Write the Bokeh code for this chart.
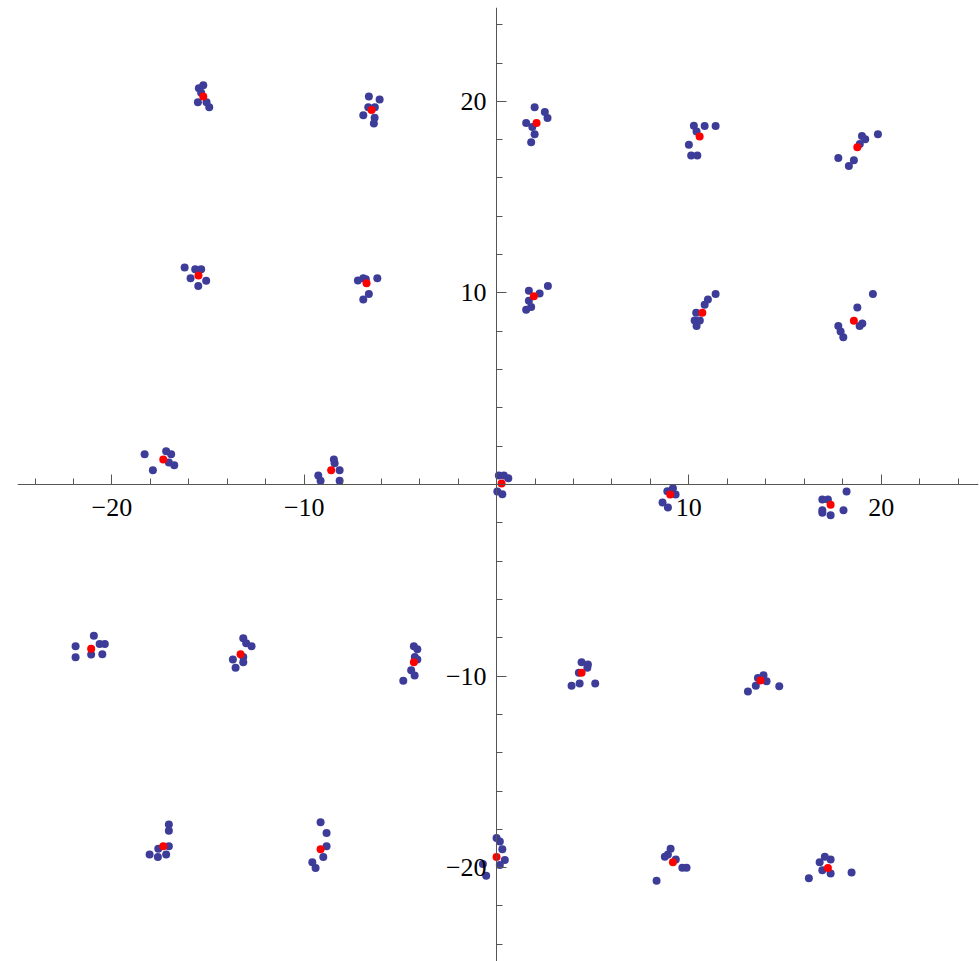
from bokeh.plotting import figure
from bokeh.models import Range1d, FixedTicker, CustomJSTickFormatter
from bokeh.embed import file_html
from bokeh.resources import INLINE

# ---- data ----
blue_points = [
    (-15.48, 20.69), (-15.25, 20.84), (-15.36, 20.45), (-15.53, 19.96), (-15.08, 19.96), (-14.94, 19.69),
    (-6.64, 20.25), (-6.08, 20.10), (-6.67, 19.69), (-6.33, 19.69), (-6.93, 19.27), (-6.34, 19.15), (-6.38, 18.84),
    (1.98, 19.69), (2.51, 19.44), (2.65, 19.13), (1.54, 18.87), (1.86, 18.66), (1.98, 18.28), (1.80, 17.87),
    (10.26, 18.73), (10.82, 18.71), (11.39, 18.71), (10.40, 18.43), (10.00, 17.74), (10.12, 17.18), (10.44, 17.18),
    (19.83, 18.29), (19.00, 18.19), (19.17, 18.02), (18.89, 17.77), (17.77, 17.04), (18.58, 16.92), (18.32, 16.62),
    (-16.22, 11.33), (-15.67, 11.23), (-15.36, 11.23), (-15.91, 10.77), (-15.10, 10.64), (-15.51, 10.36),
    (-7.21, 10.65), (-6.93, 10.77), (-6.20, 10.77), (-6.80, 10.72), (-6.64, 9.94), (-6.93, 9.66),
    (2.67, 10.36), (1.68, 10.11), (2.24, 9.97), (1.68, 9.59), (1.80, 9.26), (1.54, 9.12),
    (11.39, 9.94), (10.99, 9.66), (10.82, 9.38), (10.38, 8.97), (10.30, 8.56), (10.57, 8.56), (10.40, 8.27),
    (19.57, 9.94), (18.76, 9.24), (19.02, 8.41), (18.88, 8.27), (17.77, 8.27), (17.89, 7.99), (18.03, 7.69),
    (-18.30, 1.58), (-17.18, 1.74), (-16.92, 1.58), (-17.04, 1.15), (-16.76, 1.01), (-17.87, 0.75),
    (-8.46, 1.31), (-8.42, 1.11), (-8.16, 0.75), (-9.27, 0.47), (-9.15, 0.19), (-8.16, 0.19),
    (0.12, 0.47), (0.38, 0.47), (0.61, 0.33), (0.04, -0.37), (0.30, -0.51),
    (9.17, -0.19), (8.88, -0.35), (9.31, -0.52), (8.63, -0.94), (8.91, -1.20),
    (18.20, -0.37), (16.94, -0.78), (17.23, -0.78), (16.94, -1.34), (16.94, -1.48), (17.37, -1.60), (18.04, -1.34),
    (-20.94, -7.89), (-20.64, -8.32), (-20.37, -8.32), (-21.89, -8.44), (-21.89, -9.02), (-21.08, -8.88), (-20.50, -8.86),
    (-13.17, -8.03), (-13.02, -8.29), (-12.74, -8.44), (-13.17, -9.00), (-13.71, -9.14), (-13.17, -9.28), (-13.57, -9.57),
    (-4.30, -8.44), (-4.12, -8.60), (-4.25, -9.00), (-4.12, -9.14), (-4.44, -9.70), (-4.26, -9.97), (-4.85, -10.25),
    (4.42, -9.28), (4.75, -9.40), (4.72, -9.57), (4.28, -9.83), (3.90, -10.51), (4.32, -10.39), (5.13, -10.39),
    (13.88, -9.96), (13.59, -10.10), (14.04, -10.27), (13.48, -10.51), (13.07, -10.81), (14.70, -10.53),
    (-17.04, -17.75), (-17.04, -18.07), (-17.04, -18.89), (-17.59, -19.02), (-18.04, -19.31), (-17.61, -19.44), (-17.18, -19.31),
    (-9.15, -17.63), (-8.84, -18.19), (-8.84, -18.89), (-9.01, -19.44), (-9.58, -19.72), (-9.41, -20.02),
    (0.00, -18.45), (0.17, -18.63), (0.30, -19.04), (0.43, -19.60), (0.17, -19.86), (-0.71, -19.81), (-0.54, -20.42),
    (9.05, -19.02), (8.91, -19.31), (8.75, -19.43), (9.32, -19.58), (9.66, -20.00), (9.88, -20.00), (8.32, -20.68),
    (17.07, -19.43), (17.37, -19.58), (16.80, -19.72), (16.94, -20.14), (17.37, -20.30), (16.24, -20.56), (18.46, -20.26),
]
blue_x = [pt[0] for pt in blue_points]
blue_y = [pt[1] for pt in blue_points]

red_x = [-15.25, -6.50, 2.08, 10.56, 18.76,
         -15.50, -6.76, 1.94, 10.70, 18.58,
         -17.33, -8.60, 0.26, 9.03, 17.37,
         -21.08, -13.31, -4.30, 4.42, 13.73,
         -17.33, -9.15, 0.00, 9.17, 17.23]
red_y = [20.26, 19.55, 18.87, 18.16, 17.60,
         10.91, 10.50, 9.83, 8.97, 8.55,
         1.31, 0.75, 0.05, -0.52, -1.06,
         -8.58, -8.86, -9.28, -9.83, -10.23,
         -18.89, -19.04, -19.44, -19.72, -20.02]

major_ticks = [-20, -10, 10, 20]
minor_ticks = [-24, -22, -18, -16, -14, -12, -8, -6, -4, -2, 2, 4, 6, 8, 12, 14, 16, 18, 22, 24]

# ---- figure ----
p = figure(width=979, height=961, output_backend="svg", toolbar_location=None,
           x_range=Range1d(-24.91, 25.06), y_range=Range1d(-24.9, 24.9),
           min_border_left=17, min_border_right=1, min_border_top=7, min_border_bottom=0)
p.outline_line_color = None
p.grid.visible = False
p.background_fill_color = "white"
p.border_fill_color = "white"

p.scatter(x=blue_x, y=blue_y, size=8, color="#3d3d99", line_color=None)
p.scatter(x=red_x, y=red_y, size=8, color="#ff0000", line_color=None)

fmt = CustomJSTickFormatter(code="return tick < 0 ? '\\u2212' + Math.abs(tick) : String(tick);")

for ax in (p.xaxis[0], p.yaxis[0]):
    ax.fixed_location = 0
    ax.ticker = FixedTicker(ticks=major_ticks, minor_ticks=minor_ticks)
    ax.formatter = fmt
    ax.axis_line_color = "#555555"
    ax.major_tick_line_color = "#555555"
    ax.minor_tick_line_color = "#555555"
    ax.major_tick_in = 10
    ax.major_tick_out = 0
    ax.minor_tick_in = 6
    ax.minor_tick_out = 0
    ax.major_label_text_font = "Liberation Serif"
    ax.major_label_text_font_size = "26px"
    ax.major_label_text_color = "black"

p.xaxis[0].major_label_standoff = 14
p.yaxis[0].major_label_standoff = 10

open("out.html", "w").write(file_html(p, INLINE))
